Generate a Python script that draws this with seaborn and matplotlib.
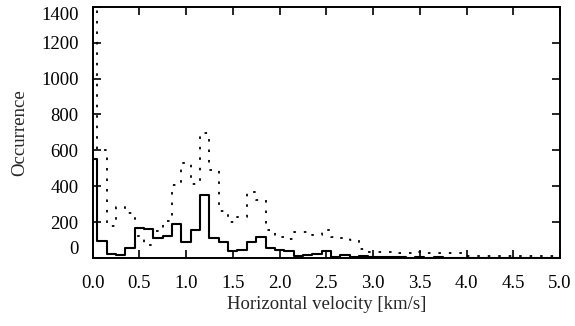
import numpy as np
import pandas as pd
import matplotlib
matplotlib.use("Agg")
import matplotlib.pyplot as plt
import seaborn as sns

# bin centres (km/s), bin width 0.1
velocity = [round(0.1 * i, 1) for i in range(51)]

solid_counts = [550, 95, 22, 14, 57, 165, 160, 111, 120, 188,
                87, 153, 350, 111, 87, 41, 44, 87, 115, 56,
                42, 37, 13, 18, 22, 37, 6, 17, 4, 8,
                3, 6, 3, 5, 2, 4, 2, 3, 1, 2,
                1, 1, 2, 0, 1, 0, 1, 0, 0, 0, 0]

dotted_counts = [1390, 600, 180, 285, 252, 120, 70, 152, 205, 408,
                 528, 410, 695, 491, 262, 200, 228, 370, 320, 155,
                 114, 107, 142, 142, 127, 153, 117, 111, 100, 50,
                 31, 31, 30, 26, 28, 30, 28, 27, 25, 25,
                 10, 10, 8, 10, 10, 12, 8, 10, 8, 8, 8]

x_ticks = [0.0, 0.5, 1.0, 1.5, 2.0, 2.5, 3.0, 3.5, 4.0, 4.5, 5.0]
y_ticks = [0, 200, 400, 600, 800, 1000, 1200, 1400]

sns.set_theme(style="ticks")
plt.rcParams["font.family"] = ["Liberation Serif", "DejaVu Serif"]
plt.rcParams["mathtext.fontset"] = "stix"

df = pd.DataFrame({"v": velocity, "solid": solid_counts, "dotted": dotted_counts})

fig = plt.figure(figsize=(5.75, 3.26), dpi=100)
ax = fig.add_axes([0.161, 0.209, 0.813, 0.770])

sns.histplot(data=df, x="v", weights="dotted", binwidth=0.1,
             binrange=(-0.05, 5.05), element="step",
             fill=False, color="black", linewidth=1.3,
             linestyle=(0, (1.4, 4.4)), ax=ax)
sns.histplot(data=df, x="v", weights="solid", binwidth=0.1,
             binrange=(-0.05, 5.05), element="step",
             fill=False, color="black", linewidth=1.5, ax=ax)

ax.set_xlim(0, 5)
ax.set_ylim(0, 1400)
ax.set_xticks(x_ticks)
ax.set_xticklabels([f"{t:.1f}" for t in x_ticks])
ax.set_yticks(y_ticks)
ax.set_yticklabels([str(t) for t in y_ticks])
labs = ax.get_yticklabels()
labs[0].set_va("bottom")
labs[-1].set_va("top")

ax.tick_params(direction="in", top=True, right=True, length=6, width=1.2,
               labelsize=13.5, colors="black")
ax.tick_params(axis="x", pad=12)
ax.tick_params(axis="y", pad=10)
for s in ax.spines.values():
    s.set_linewidth(1.4)
    s.set_color("black")

ax.set_xlabel("Horizontal velocity [km/s]", fontsize=13.5, labelpad=3)
ax.set_ylabel("Occurrence", fontsize=13.5, labelpad=9)

fig.savefig("out.png", dpi=100)
